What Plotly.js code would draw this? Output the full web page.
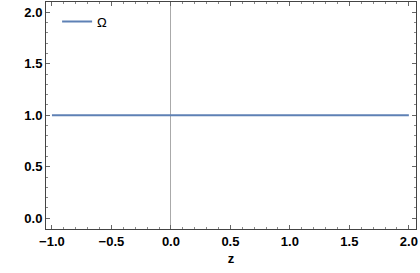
<!DOCTYPE html>
<html>
<head>
<meta charset="utf-8">
<script src="https://cdn.plot.ly/plotly-3.0.1.min.js"></script>
<style>html,body{margin:0;padding:0;background:#fff;}#chart{width:420px;height:273px;}</style>
</head>
<body>
<div id="chart"></div>
<script>
const zValues = [-1.0, 2.0];
const omegaValues = [1.0, 1.0];
const seriesName = 'Ω';
const xTickVals = [-1.0, -0.5, 0.0, 0.5, 1.0, 1.5, 2.0];
const xTickText = ['−1.0', '−0.5', '0.0', '0.5', '1.0', '1.5', '2.0'];
const yTickVals = [0.0, 0.5, 1.0, 1.5, 2.0];
const yTickText = ['0.0', '0.5', '1.0', '1.5', '2.0'];

const axisCommon = {
  showgrid: false,
  showline: true,
  linecolor: '#444',
  linewidth: 1,
  mirror: 'allticks',
  ticks: 'inside',
  ticklen: 4,
  tickwidth: 1,
  tickcolor: '#666',
  tickfont: {family: 'Liberation Sans, Arial, sans-serif', size: 13, color: '#000', weight: 'bold'},
  minor: {ticks: 'inside', ticklen: 2, tickcolor: '#888', dtick: 0.1, showgrid: false}
};

Plotly.newPlot('chart', [{
  x: zValues,
  y: omegaValues,
  name: seriesName,
  mode: 'lines',
  line: {color: '#5E81B5', width: 2},
  showlegend: true
}], {
  width: 420,
  height: 273,
  margin: {l: 46, r: 4, t: 2, b: 44},
  paper_bgcolor: '#fff',
  plot_bgcolor: '#fff',
  showlegend: true,
  legend: {x: 0.03, y: 0.98, xanchor: 'left', yanchor: 'top', bgcolor: 'rgba(0,0,0,0)',
           font: {family: 'Liberation Sans, Arial, sans-serif', size: 13, color: '#000'}},
  xaxis: Object.assign({}, axisCommon, {
    range: [-1.05, 2.06],
    tickvals: xTickVals, ticktext: xTickText,
    zeroline: true, zerolinecolor: '#aaa', zerolinewidth: 1,
    title: {text: 'z', font: {family: 'Liberation Sans, Arial, sans-serif', size: 13, color: '#000', weight: 'bold'}, standoff: 6}
  }),
  yaxis: Object.assign({}, axisCommon, {
    range: [-0.105, 2.1],
    tickvals: yTickVals, ticktext: yTickText,
    zeroline: false
  })
}, {displayModeBar: false, staticPlot: true});
</script>
</body>
</html>
